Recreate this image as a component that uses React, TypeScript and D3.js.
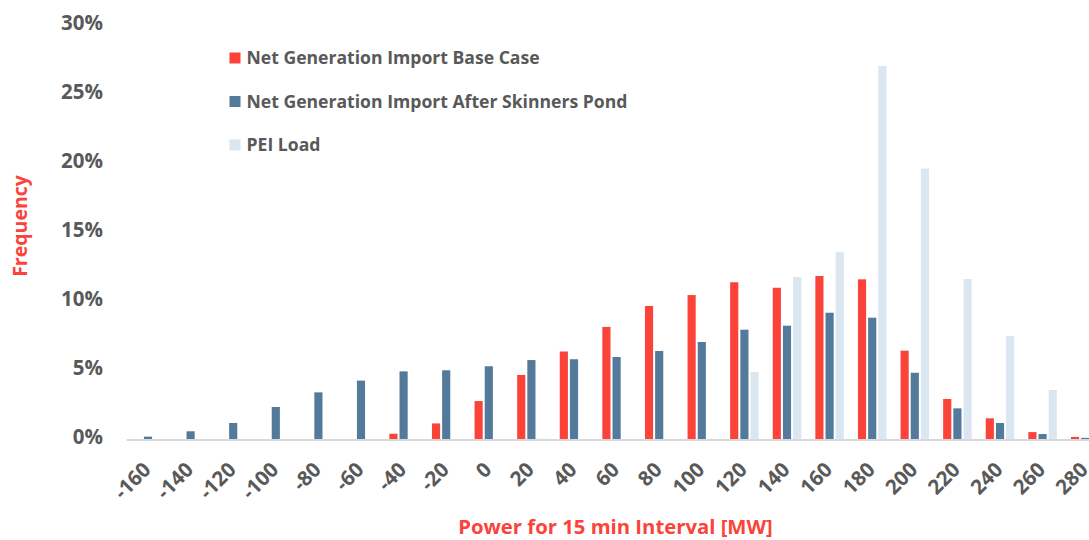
import { useEffect, useRef } from 'react';
import * as d3 from 'd3';

// Categorias del eje X (MW)
const categories = [
  '-160', '-140', '-120', '-100', '-80', '-60', '-40', '-20', '0', '20', '40', '60',
  '80', '100', '120', '140', '160', '180', '200', '220', '240', '260', '280',
];

const seriesNames = [
  'Net Generation Import Base Case',
  'Net Generation Import After Skinners Pond',
  'PEI Load',
];

// Frecuencias (%)
const baseCase = [
  0, 0, 0, 0, 0, 0, 0.38, 1.13, 2.75, 4.64, 6.34, 8.12,
  9.64, 10.43, 11.36, 10.96, 11.81, 11.57, 6.4, 2.9, 1.5, 0.5, 0.15,
];
const afterSkinners = [
  0.17, 0.56, 1.16, 2.32, 3.38, 4.23, 4.9, 4.98, 5.27, 5.72, 5.78, 5.94,
  6.38, 7.03, 7.92, 8.21, 9.15, 8.79, 4.8, 2.22, 1.16, 0.36, 0.08,
];
const peiLoad = [
  0, 0, 0, 0, 0, 0, 0, 0, 0, 0.03, 0, 0,
  0, 0, 4.86, 11.74, 13.53, 27.03, 19.59, 11.59, 7.46, 3.55, 0.05,
];

const yTicks = [0, 5, 10, 15, 20, 25, 30];

const colors = ['#FB433A', '#53799B', '#DAE6F0'];
const textColor = '#595959';
const font = '"Open Sans", sans-serif';

export default function App() {
  const chartRef = useRef<SVGSVGElement | null>(null);

  useEffect(() => {
    if (!chartRef.current) return;

    const width = 1089;
    const height = 540;

    const svg = d3.select(chartRef.current);
    svg.selectAll('*').remove();
    svg.attr('width', width).attr('height', height).attr('viewBox', `0 0 ${width} ${height}`);

    const values = [baseCase, afterSkinners, peiLoad];

    // Escalas
    const x = d3.scaleBand<string>().domain(categories).range([126.7, 1106.5]).padding(0);
    const xSub = d3.scaleBand<number>().domain([0, 1, 2]).range([-14.25, 14.25]).paddingInner(0.2);
    const y = d3.scaleLinear().domain([0, 30]).range([439, 25]);

    const groupCenter = (c: string) => (x(c) ?? 0) + x.bandwidth() / 2;

    // Barras
    values.forEach((serie, s) => {
      svg.append('g')
        .selectAll('rect')
        .data(serie.map((v, i) => ({ cat: categories[i], v })))
        .enter()
        .append('rect')
        .attr('x', (d) => groupCenter(d.cat) + (xSub(s) ?? 0))
        .attr('y', (d) => y(d.v))
        .attr('width', xSub.bandwidth())
        .attr('height', (d) => y(0) - y(d.v))
        .attr('fill', colors[s]);
    });

    // Linea del eje X
    svg.append('line')
      .attr('x1', x.range()[0])
      .attr('x2', width)
      .attr('y1', y(0) + 1)
      .attr('y2', y(0) + 1)
      .attr('stroke', '#D9D9D9')
      .attr('stroke-width', 2);

    // Etiquetas del eje Y
    svg.append('g')
      .selectAll('text')
      .data(yTicks)
      .enter()
      .append('text')
      .attr('x', 103)
      .attr('y', (d) => y(d) - 2.3)
      .attr('dy', '0.35em')
      .attr('text-anchor', 'end')
      .style('font-family', font)
      .style('font-size', '20.5px')
      .style('font-weight', 'bold')
      .attr('fill', textColor)
      .text((d) => `${d}%`);

    // Etiquetas del eje X (rotadas)
    svg.append('g')
      .selectAll('text')
      .data(categories)
      .enter()
      .append('text')
      .attr('transform', (d) => `translate(${groupCenter(d) + 4},471) rotate(-45)`)
      .attr('text-anchor', 'end')
      .style('font-family', font)
      .style('font-size', '20.5px')
      .style('font-weight', 'bold')
      .attr('fill', textColor)
      .text((d) => d);

    // Leyenda
    const legend = svg.append('g');
    seriesNames.forEach((name, i) => {
      const by = 64 + i * 43.5;
      legend.append('rect')
        .attr('x', 229.5)
        .attr('y', by - 11.5)
        .attr('width', 11)
        .attr('height', 11)
        .attr('fill', colors[i]);
      legend.append('text')
        .attr('x', 246.5)
        .attr('y', by)
        .style('font-family', font)
        .style('font-size', '17.6px')
        .style('font-weight', 'bold')
        .attr('fill', textColor)
        .text(name);
    });

    // Titulos de ejes
    svg.append('text')
      .attr('x', 615.5)
      .attr('y', 534)
      .attr('text-anchor', 'middle')
      .style('font-family', font)
      .style('font-size', '20.3px')
      .style('font-weight', 'bold')
      .attr('fill', colors[0])
      .text('Power for 15 min Interval [MW]');

    svg.append('text')
      .attr('transform', 'translate(27,226) rotate(-90)')
      .attr('text-anchor', 'middle')
      .style('font-family', font)
      .style('font-size', '19.5px')
      .style('font-weight', 'bold')
      .attr('fill', colors[0])
      .text('Frequency');
  }, []);

  return <svg ref={chartRef} style={{ position: 'absolute', left: 0, top: 0 }}></svg>;
}
